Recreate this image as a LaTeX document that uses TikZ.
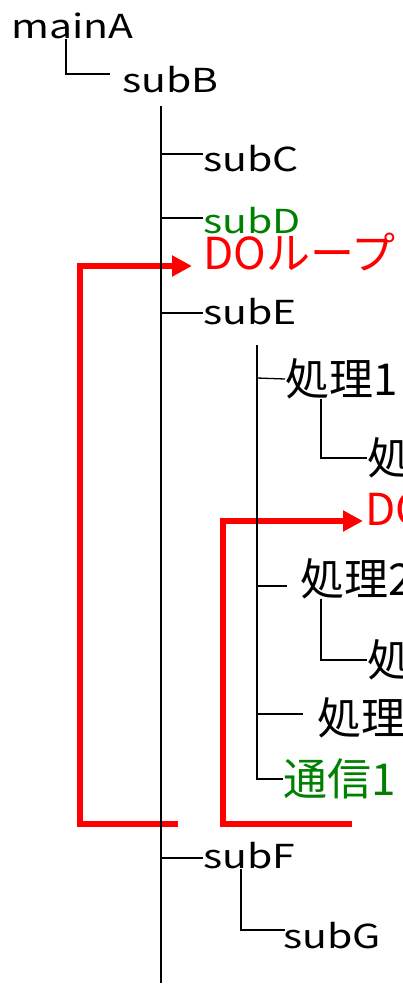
\documentclass[tikz,border=0pt]{standalone}
\usepackage{fontspec}
\setmainfont{Noto Sans CJK JP}
\usepackage{xcolor}
\usepackage{tikz}
\usetikzlibrary{arrows.meta}
\definecolor{callgreen}{RGB}{0,128,0}
\newcommand{\wide}[1]{\scalebox{1.24}[1]{#1}}
\tikzset{
  sublbl/.style={inner sep=0pt, anchor=base west, font=\fontsize{33}{33}\selectfont},
  proclbl/.style={inner sep=0pt, anchor=west, font=\fontsize{44}{44}\selectfont},
  looplbl/.style={inner sep=0pt, anchor=base west, red, font=\fontsize{44}{44}\selectfont},
  loopline/.style={red, line width=5.5pt, -{Triangle[length=20pt,width=20pt]}},
  treeline/.style={line width=1.3pt},
}

\begin{document}
\begin{tikzpicture}[x=1pt,y=-1pt]
            \useasboundingbox (0,0) rectangle (403,988);
            \node[sublbl] (mainA) at (11,38) {\wide{mainA}};
            \node[sublbl] (subB) at (122,92) {\wide{subB}};
            \node[sublbl] (subC) at (203,171) {\wide{subC}};
            \node[sublbl, callgreen] (subD) at (203,233) {\wide{subD}};
            \node[looplbl] (loopA) at (203,269) {DOループ};
            \node[sublbl] (subE) at (203,324) {\wide{subE}};
            \node[proclbl] (proc1) at (285,379) {処理1};
            \node[proclbl] (proc11) at (367,458) {処理1-1};
            \node[looplbl] (loopB) at (365,525) {DOループ};
            \node[proclbl] (proc2) at (300,579) {処理2};
            \node[proclbl] (proc21) at (367,660) {処理2-1};
            \node[proclbl] (proc3) at (317,718) {処理3};
            \node[proclbl, callgreen] (comm1) at (283,779) {通信1};
            \node[sublbl] (subF) at (203,868) {\wide{subF}};
            \node[sublbl] (subG) at (283,948) {\wide{subG}};
            % loops
            \coordinate (loopAend) at (178,824);
            \coordinate (loopBend) at (352,824);
            \draw[loopline] (loopAend) -- (80,824) -- (80,266) -- (192,266);
            \draw[loopline] (loopBend) -- (223,824) -- (223,521) -- (363,521);
            % tree
            \coordinate (trunkTop) at (161,106);
            \coordinate (trunkBot) at (161,983);
            \begin{scope}[treeline]
            \draw (mainA.south -| 66,0) |- (110,74);
            \draw (trunkTop) -- (trunkBot);
            \draw (161,154) -- (subC.west |- 0,154);
            \draw (161,218) -- (subD.west |- 0,218);
            \draw (161,313) -- (subE.west |- 0,313);
            \draw (161,858) -- (subF.west |- 0,858);
            \draw (subF.south -| 241,0) |- (285,930);
            \draw (257,345) |- (comm1.west);
            \draw (257,378) -- (proc1.west);
            \draw (257,586) -- (287,586);
            \draw (257,714) -- (303,714);
            \draw (proc1.south -| 321,0) |- (proc11.west);
            \draw (proc2.south -| 321,0) |- (proc21.west);
            \end{scope}
\end{tikzpicture}
\end{document}
